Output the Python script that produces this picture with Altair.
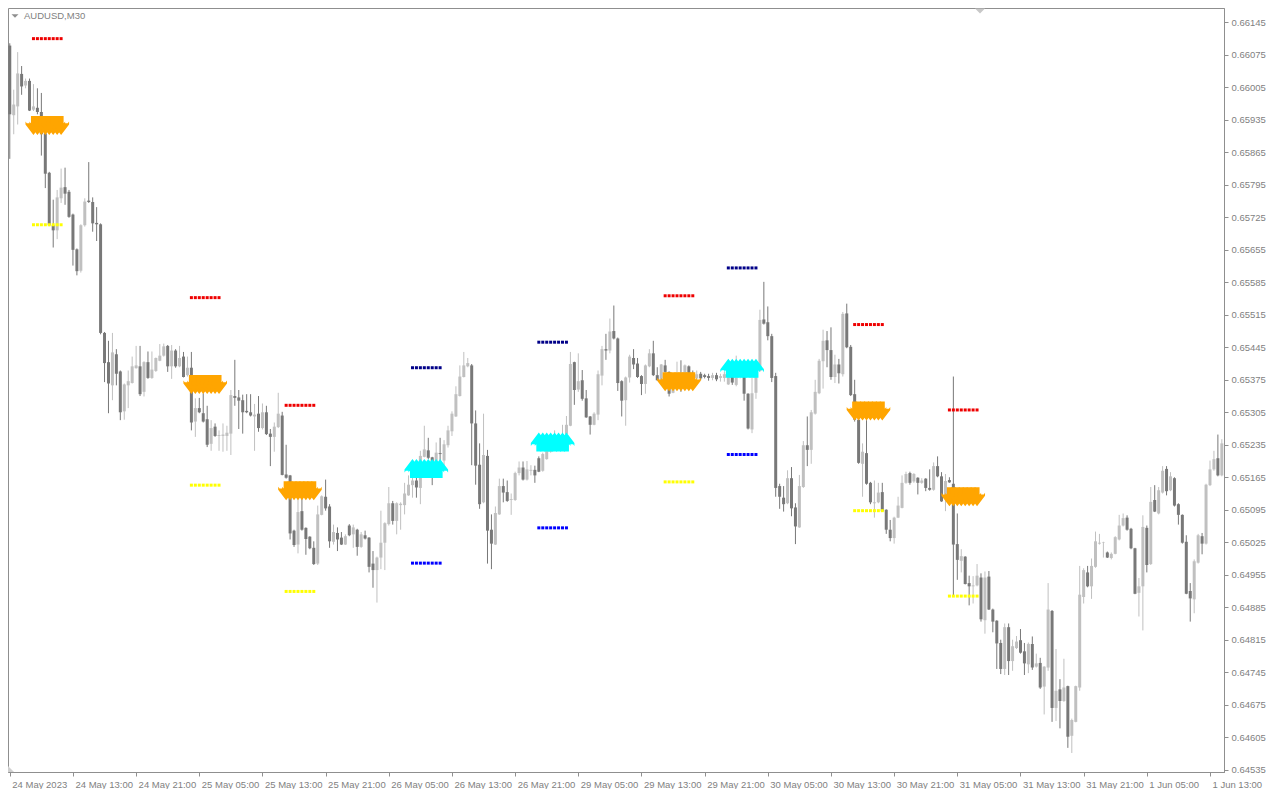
import altair as alt
import pandas as pd

# ---- candle data (price in 1e-5 units) ----
OPEN = [
66095,65945,65964,66034,66009,66019,65957,65961,65952,65906,
65821,65708,65697,65766,65790,65780,65731,65656,65610,65708,
65761,65758,65713,65710,65476,65413,65363,65430,65393,65307,
65363,65368,65400,65404,65349,65413,65379,65394,65416,65427,
65448,65404,65438,65404,65425,65385,65401,65285,65314,65303,
65290,65237,65274,65254,65254,65254,65259,65340,65337,65331,
65308,65305,65296,65302,65271,65305,65259,65252,65273,65298,
65171,65169,65050,65020,65092,65056,65037,65013,64979,65084,
65123,65102,65026,65045,65035,65020,65061,65042,65052,65015,
65040,65035,64979,64965,64992,65024,65064,65109,65071,65105,
65105,65126,65148,65158,65142,65209,65223,65208,65176,65217,
65201,65234,65264,65296,65340,65381,65404,65406,65281,65192,
65111,65211,65052,65020,65085,65146,65133,65116,65116,65174,
65186,65160,65179,65181,65206,65179,65204,65220,65229,65245,
65238,65258,65276,65413,65354,65374,65335,65296,65278,65300,
65384,65441,65438,65480,65464,65372,65331,65380,65422,65410,
65383,65366,65404,65432,65385,65374,65406,65392,65347,65367,
65381,65371,65404,65390,65378,65388,65385,65383,65379,65385,
65379,65379,65365,65383,65364,65381,65381,65345,65268,65347,
65394,65505,65499,65469,65383,65146,65121,65109,65163,65100,
65057,65144,65234,65224,65302,65346,65415,65460,65439,65381,
65408,65387,65518,65446,65344,65289,65194,65217,65153,65109,
65111,65133,65095,65052,65034,65078,65099,65153,65174,65156,
65164,65153,65162,65142,65138,65189,65167,65126,65159,65151,
65021,64985,64994,64937,64930,64932,64949,64857,64951,64880,
64856,64808,64752,64842,64769,64797,64814,64790,64762,64806,
64757,64765,64714,64755,64877,64668,64708,64683,64715,64608,
64638,64712,64907,64960,64930,64972,65022,65024,65003,64991,
65000,65031,65061,65078,65054,65012,64916,64930,65056,64978,
65116,65087,65132,65183,65137,65163,65107,65084,65026,64920,
64902,64981,65038,65022,65148,65182,65206,65169]
HIGH = [
66100,66000,66081,66051,66024,66024,66012,66003,65993,65908,
65823,65763,65784,65830,65832,65784,65733,65658,65710,65766,
65844,65768,65747,65712,65478,65459,65476,65441,65395,65367,
65395,65425,65448,65448,65415,65436,65436,65423,65452,65453,
65450,65450,65441,65448,65435,65425,65435,65335,65336,65346,
65319,65288,65281,65266,65281,65276,65353,65418,65353,65343,
65344,65344,65323,65340,65324,65319,65269,65283,65347,65306,
65235,65170,65052,65123,65119,65057,65038,65027,65104,65126,
65160,65107,65063,65057,65047,65042,65064,65063,65054,65047,
65050,65036,65006,64994,65093,65068,65144,65114,65111,65111,
65153,65169,65177,65176,65222,65276,65250,65209,65240,65250,
65245,65276,65307,65361,65406,65435,65422,65409,65309,65238,
65302,65224,65085,65102,65162,65162,65158,65130,65177,65199,
65199,65200,65191,65190,65210,65218,65227,65257,65266,65258,
65278,65297,65435,65414,65432,65396,65353,65297,65305,65395,
65448,65474,65507,65535,65466,65374,65382,65429,65441,65422,
65385,65408,65441,65459,65402,65409,65418,65393,65374,65414,
65417,65408,65406,65395,65395,65392,65388,65388,65390,65390,
65388,65392,65395,65394,65427,65409,65395,65346,65383,65399,
65526,65586,65533,65474,65390,65151,65146,65180,65187,65109,
65170,65243,65296,65310,65375,65420,65483,65480,65488,65429,
65420,65521,65539,65450,65375,65290,65238,65288,65155,65158,
65153,65153,65096,65073,65080,65123,65169,65177,65177,65174,
65165,65163,65163,65182,65197,65210,65176,65172,65165,65382,
65087,65010,64995,64953,64952,64978,64958,64962,64963,64882,
64857,64815,64850,64850,64815,64823,64838,64808,64809,64822,
64785,64776,64758,64937,64879,64795,64730,64774,64716,64645,
64716,64974,64969,64974,64990,65048,65043,65026,65005,65003,
65038,65084,65087,65083,65056,65013,64948,65083,65061,65144,
65148,65144,65189,65189,65176,65165,65109,65085,65040,64937,
64988,65043,65045,65151,65201,65222,65257,65247]
LOW = [
65851,65904,65925,65989,66003,65954,65954,65947,65858,65788,
65706,65660,65678,65756,65752,65724,65621,65600,65606,65705,
65756,65694,65674,65473,65370,65303,65331,65363,65288,65289,
65314,65367,65399,65340,65339,65377,65377,65392,65415,65425,
65392,65377,65401,65402,65380,65382,65266,65252,65303,65283,
65230,65222,65252,65222,65220,65222,65213,65319,65269,65259,
65303,65296,65222,65263,65268,65256,65189,65220,65271,65169,
65162,65031,65015,65001,65050,64998,65010,64976,64976,65083,
65093,65013,65020,65006,65019,65019,65038,65013,64996,65013,
65031,64960,64927,64895,64967,64965,65061,65063,65042,65052,
65085,65125,65121,65121,65107,65208,65204,65148,65172,65197,
65190,65229,65254,65295,65339,65380,65402,65191,65149,65097,
65109,64979,64967,65019,65084,65111,65112,65084,65114,65169,
65158,65158,65169,65153,65176,65177,65203,65218,65225,65230,
65234,65252,65275,65321,65349,65330,65293,65257,65277,65288,
65363,65418,65432,65462,65351,65296,65276,65369,65398,65379,
65342,65345,65402,65383,65373,65370,65390,65339,65346,65353,
65349,65367,65387,65374,65376,65374,65378,65373,65374,65372,
65371,65371,65364,65364,65361,65378,65330,65268,65260,65334,
65392,65494,65460,65370,65123,65097,65091,65107,65081,65021,
65056,65142,65189,65194,65300,65344,65356,65402,65375,65368,
65367,65382,65443,65340,65285,65194,65123,65149,65107,65078,
65109,65091,65043,65027,65022,65077,65098,65151,65149,65153,
65128,65151,65135,65136,65136,65165,65112,65092,65153,64910,
64944,64960,64934,64889,64893,64930,64854,64828,64879,64831,
64752,64741,64739,64739,64748,64795,64785,64739,64743,64750,
64755,64709,64654,64748,64638,64640,64624,64681,64582,64571,
64637,64705,64893,64928,64903,64970,65020,64992,64991,64988,
64999,65029,65059,65050,65010,64913,64865,64835,64960,64976,
65090,65085,65130,65126,65135,65102,65063,65022,64913,64854,
64872,64979,64999,65020,65146,65179,65167,65167]
CLOSE = [
65947,65968,66035,66007,66019,65955,65964,65952,65904,65819,
65708,65697,65768,65789,65776,65726,65655,65609,65708,65759,
65758,65712,65710,65476,65411,65367,65434,65388,65305,65365,
65372,65404,65406,65344,65413,65379,65397,65422,65427,65447,
65404,65438,65404,65422,65381,65401,65283,65314,65305,65285,
65235,65271,65254,65256,65257,65261,65342,65336,65330,65305,
65305,65298,65300,65271,65305,65258,65252,65274,65302,65170,
65164,65044,65019,65090,65052,65032,65012,64978,65085,65124,
65098,65027,65047,65031,65020,65038,65040,65057,65015,65042,
65033,64972,64965,64992,65024,65066,65109,65071,65109,65108,
65130,65149,65158,65143,65211,65225,65207,65176,65218,65215,
65236,65266,65302,65344,65382,65406,65411,65281,65190,65107,
65213,65050,65022,65088,65146,65132,65114,65118,65174,65186,
65160,65182,65181,65169,65177,65215,65222,65229,65245,65238,
65258,65278,65409,65353,65372,65334,65294,65278,65302,65387,
65441,65438,65479,65464,65368,65330,65380,65425,65408,65381,
65366,65406,65432,65385,65374,65408,65392,65345,65371,65381,
65371,65406,65390,65378,65387,65378,65381,65379,65385,65376,
65383,65387,65383,65369,65383,65388,65345,65270,65346,65395,
65504,65496,65469,65379,65142,65123,65107,65163,65098,65059,
65146,65234,65224,65305,65349,65416,65459,65439,65381,65408,
65389,65517,65445,65342,65289,65196,65220,65151,65111,65111,
65132,65092,65052,65034,65078,65104,65153,65172,65153,65172,
65153,65158,65142,65138,65189,65167,65113,65157,65154,65020,
64987,64995,64935,64930,64932,64953,64859,64949,64880,64854,
64807,64752,64842,64769,64801,64811,64787,64764,64806,64755,
64764,64712,64757,64880,64668,64705,64683,64712,64606,64642,
64715,64912,64965,64930,64974,65027,65024,65025,64992,65000,
65036,65061,65077,65052,65012,64914,64930,65058,64976,65112,
65091,65137,65179,65135,65167,65104,65084,65024,64914,64904,
64984,65040,65022,65149,65182,65204,65169,65238]
PRICE_UNIT = 100000

# ---- axis ticks ----
X_TICK_BARS = [0, 16, 32, 48, 64, 80, 96, 112, 128, 144, 160, 176, 192, 208, 224, 240, 256, 272, 288, 304]
X_TICK_LABELS = ["24 May 2023", "24 May 13:00", "24 May 21:00", "25 May 05:00", "25 May 13:00",
                 "25 May 21:00", "26 May 05:00", "26 May 13:00", "26 May 21:00", "29 May 05:00",
                 "29 May 13:00", "29 May 21:00", "30 May 05:00", "30 May 13:00", "30 May 21:00",
                 "31 May 05:00", "31 May 13:00", "31 May 21:00", "1 Jun 05:00", "1 Jun 13:00"]
Y_TICKS = [0.66145, 0.66075, 0.66005, 0.65935, 0.65865, 0.65795, 0.65725, 0.65655, 0.65585,
           0.65515, 0.65445, 0.65375, 0.65305, 0.65235, 0.65165, 0.65095, 0.65025, 0.64955,
           0.64885, 0.64815, 0.64745, 0.64675, 0.64605, 0.64535]

# ---- indicator signals (8 bars each) ----
SIG_TYPE = ["sell", "sell", "sell", "buy", "buy", "sell", "buy", "sell", "sell"]
SIG_START = [6, 46, 70, 102, 134, 166, 182, 214, 238]
SIG_UPPER = [66110, 65552, 65320, 65401, 65456, 65556, 65616, 65494, 65310]
SIG_ARROW = [65923, 65365, 65136, 65184, 65241, 65371, 65400, 65308, 65123]
SIG_LOWER = [65709, 65148, 64919, 64980, 65056, 65155, 65214, 65093, 64909]
SIG_LEN = 8

candles = pd.DataFrame({
    "bar": list(range(len(OPEN))),
    "open": [v / PRICE_UNIT for v in OPEN],
    "high": [v / PRICE_UNIT for v in HIGH],
    "low": [v / PRICE_UNIT for v in LOW],
    "close": [v / PRICE_UNIT for v in CLOSE],
    "dir": ["up" if c >= o else "down" for o, c in zip(OPEN, CLOSE)],
})

arrow_rows, dot_rows = [], []
for t, s, u, a, l in zip(SIG_TYPE, SIG_START, SIG_UPPER, SIG_ARROW, SIG_LOWER):
    for k in range(SIG_LEN):
        arrow_rows.append({"bar": s + k, "type": t, "price": a / PRICE_UNIT})
        dot_rows.append({"bar": s + k, "kind": "upper_" + t, "price": u / PRICE_UNIT})
        dot_rows.append({"bar": s + k, "kind": "lower_" + t, "price": l / PRICE_UNIT})
arrows = pd.DataFrame(arrow_rows)
dots = pd.DataFrame(dot_rows)

W, H = 1216, 764
FONT = "Liberation Sans"
AX_COL = "#8f8f8f"
LAB_COL = "#7f7f7f"

labels_js = "[" + ",".join("'" + s + "'" for s in X_TICK_LABELS) + "]"
bars_js = "[" + ",".join(str(b) for b in X_TICK_BARS) + "]"

x_enc = alt.X("bar:Q",
              scale=alt.Scale(domain=[-0.45, 307.55], nice=False, zero=False, padding=0),
              axis=alt.Axis(values=X_TICK_BARS, labelExpr=labels_js + "[indexof(" + bars_js + ", datum.value)]",
                            labelAlign="left", labelBaseline="top", labelOffset=2, labelPadding=3,
                            tickSize=4, labelFlush=False, labelOverlap=False, grid=False, title=None,
                            domainColor=AX_COL, tickColor=AX_COL, labelColor=LAB_COL,
                            labelFont=FONT, labelFontSize=9.5))
y_scale = alt.Scale(domain=[0.64530, 0.66176], nice=False, zero=False, padding=0)
y_axis = alt.Axis(orient="right", values=Y_TICKS, format=".5f", tickSize=4, labelPadding=3,
                  labelOverlap=False, labelFlush=False, grid=False, title=None,
                  domainColor=AX_COL, tickColor=AX_COL, labelColor=LAB_COL,
                  labelFont=FONT, labelFontSize=9.5)

candle_color = alt.Color("dir:N", scale=alt.Scale(domain=["up", "down"], range=["#c0c0c0", "#787878"]),
                         legend=None)

base = alt.Chart(candles)
wicks = base.mark_rule(strokeWidth=1).encode(
    x=x_enc, y=alt.Y("low:Q", scale=y_scale, axis=y_axis), y2="high:Q", color=candle_color)
bodies = base.mark_bar(size=3).encode(
    x=x_enc, y=alt.Y("open:Q", scale=y_scale, axis=y_axis), y2="close:Q", color=candle_color)

DOWN_ARROW = ("M -0.263 -1 L 0.263 -1 L 0.263 -0.23 L 0.7 -0.23 L 0.84 -0.42 L 0.84 -0.1 "
              "L 0 1 L -0.84 -0.1 L -0.84 -0.42 L -0.7 -0.23 L -0.263 -0.23 Z")
UP_ARROW = ("M -0.263 1 L 0.263 1 L 0.263 0.23 L 0.7 0.23 L 0.84 0.42 L 0.84 0.1 "
            "L 0 -1 L -0.84 0.1 L -0.84 0.42 L -0.7 0.23 L -0.263 0.23 Z")

arrow_base = alt.Chart(arrows)
sell_arrows = arrow_base.transform_filter(alt.datum.type == "sell").mark_point(
    shape=DOWN_ARROW, filled=True, size=361, opacity=1, color="#ffa500", strokeWidth=0).encode(
    x=x_enc, y=alt.Y("price:Q", scale=y_scale, axis=y_axis))
buy_arrows = arrow_base.transform_filter(alt.datum.type == "buy").mark_point(
    shape=UP_ARROW, filled=True, size=361, opacity=1, color="#00ffff", strokeWidth=0).encode(
    x=x_enc, y=alt.Y("price:Q", scale=y_scale, axis=y_axis))

DOT_KINDS = ["upper_sell", "lower_sell", "upper_buy", "lower_buy"]
DOT_COLORS = ["#ee0000", "#ffff00", "#000088", "#0000ff"]
dot_layers = [
    alt.Chart(dots).transform_filter(alt.datum.kind == k).mark_square(
        size=9, opacity=1, strokeWidth=0, color=c).encode(
        x=x_enc, y=alt.Y("price:Q", scale=y_scale, axis=y_axis))
    for k, c in zip(DOT_KINDS, DOT_COLORS)
]

title_df = pd.DataFrame({"t": ["AUDUSD,M30"]})
title = alt.Chart(title_df).mark_text(align="left", baseline="middle", font=FONT, fontSize=9.5,
                                       color=LAB_COL).encode(x=alt.value(16), y=alt.value(8), text="t:N")
tri = alt.Chart(title_df).mark_point(shape="M -1 -0.5 L 1 -0.5 L 0 0.5 Z", filled=True, size=49,
                                     color="#8f8f8f", opacity=1, strokeWidth=0).encode(
    x=alt.value(7), y=alt.value(8))
shift_mark = alt.Chart(title_df).mark_point(shape="M -1 -0.5 L 1 -0.5 L 0 0.5 Z", filled=True, size=100,
                                            color="#c8c8c8", opacity=1, strokeWidth=0).encode(
    x=alt.value(972), y=alt.value(3))
corner = alt.Chart(title_df).mark_point(shape="M -1 -1 L 1 1 L -1 1 Z", filled=True, size=36,
                                        color="#d0d0d0", opacity=1, strokeWidth=0).encode(
    x=alt.value(3), y=alt.value(H - 3))

chart = alt.layer(wicks, bodies, sell_arrows, buy_arrows, *dot_layers, title, tri, shift_mark, corner).properties(
    width=W, height=H, padding=0, background="white"
).configure_view(stroke=AX_COL, strokeWidth=1)

chart.save("out.html", embed_options={"renderer": "svg", "actions": False})
